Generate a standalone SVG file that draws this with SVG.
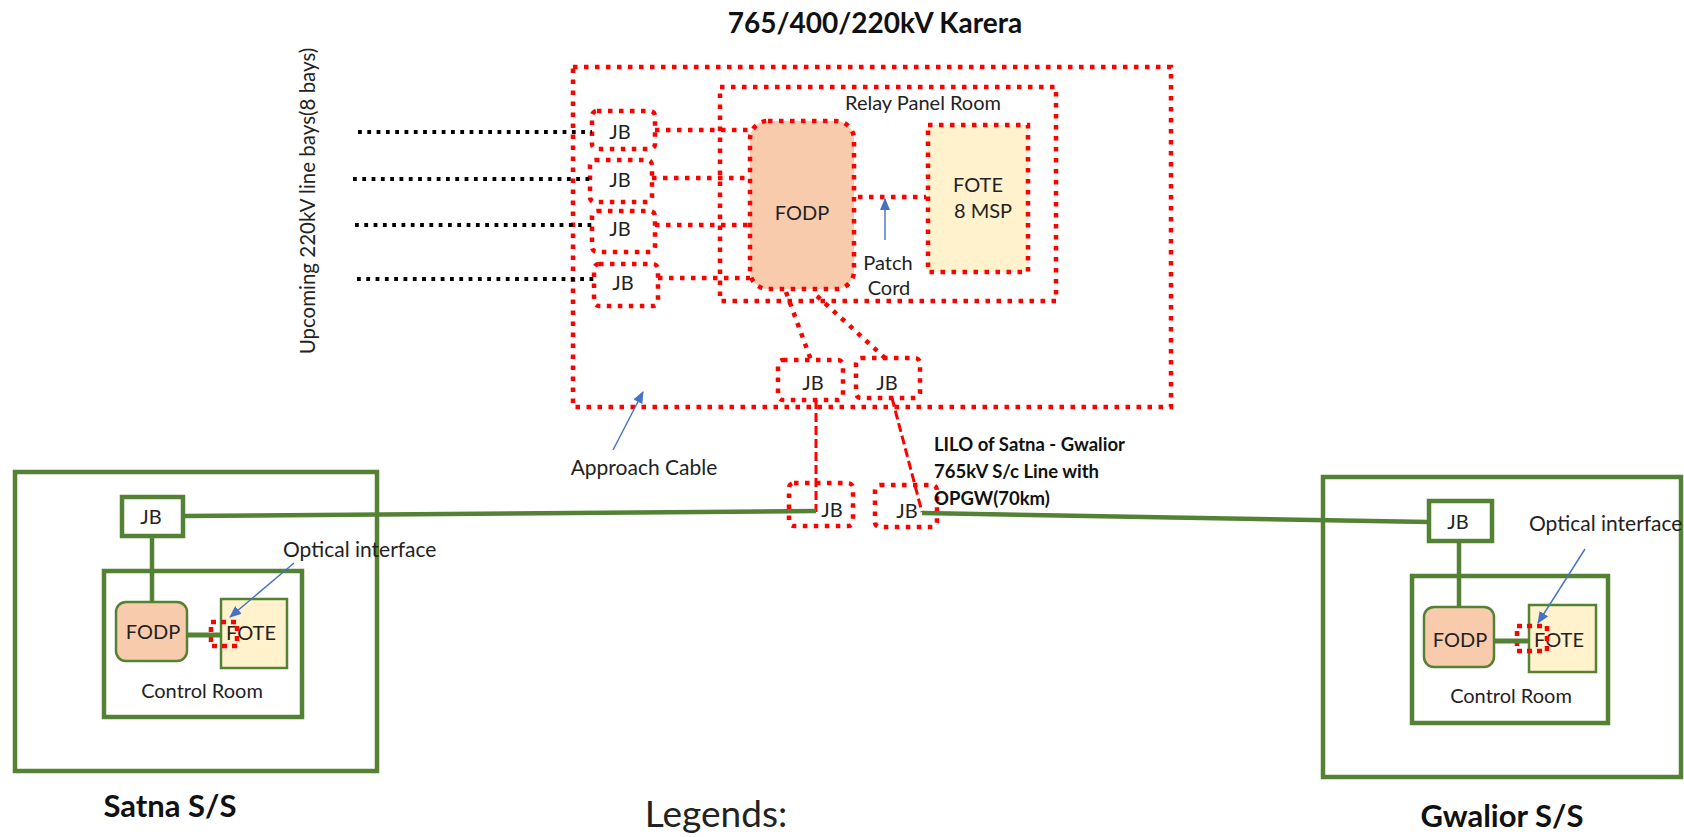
<svg xmlns="http://www.w3.org/2000/svg" width="1684" height="837" viewBox="0 0 1684 837">
<defs>
<style>
.rd{fill:none;stroke:#FF0000;stroke-width:4.5;stroke-dasharray:4.5 6.5}
.rdl{stroke:#FF0000;stroke-width:4.5;stroke-dasharray:4.5 6.5;fill:none}
.rdash{stroke:#FF0000;stroke-width:3;stroke-dasharray:9 4;fill:none}
.bd{stroke:#000;stroke-width:3.8;stroke-dasharray:3.8 5.5;fill:none}
.gb{fill:none;stroke:#548235;stroke-width:4.5}
.gl{stroke:#548235;stroke-width:4.5;fill:none}
.gt{stroke:#548235;stroke-width:2.5}
.ar{stroke:#4472C4;stroke-width:1.4;fill:none;marker-end:url(#ah)}
.t{font-family:Lato,'Open Sans',sans-serif;font-size:20px;fill:#222}
.m{text-anchor:middle}
.b{font-weight:bold;fill:#111}
.peach{fill:#F8CBAD}
.cream{fill:#FFF2CC}
</style>
<marker id="ah" markerWidth="12" markerHeight="10" refX="11" refY="5" orient="auto" markerUnits="userSpaceOnUse">
<path d="M0,0 L12,5 L0,10 Z" fill="#4472C4"/>
</marker>
</defs>
<rect width="1684" height="837" fill="#fff"/>

<text class="t b m" x="875" y="33" style="font-size:28px">765/400/220kV Karera</text>

<g id="karera">
<rect class="rd" x="573" y="67" width="598" height="340"/>
</g>
<g id="relay-room">
<rect class="rd" x="720" y="87" width="336" height="214"/>
<text class="t m" x="923" y="110">Relay Panel Room</text>
</g>
<g id="karera-fodp">
<rect class="rd peach" x="750" y="121" width="104" height="168" rx="18"/>
<text class="t m" x="802" y="220">FODP</text>
</g>
<g id="karera-fote">
<rect class="rd cream" x="928" y="125" width="100" height="147"/>
<text class="t m" x="978" y="192">FOTE</text>
<text class="t m" x="983" y="218">8 MSP</text>
</g>
<g id="jb1"><rect class="rd" x="592" y="111" width="63" height="38" rx="5"/><text class="t m" x="620" y="139">JB</text></g>
<g id="jb2"><rect class="rd" x="590" y="160" width="62" height="42" rx="5"/><text class="t m" x="620" y="187">JB</text></g>
<g id="jb3"><rect class="rd" x="592" y="211" width="63" height="41" rx="5"/><text class="t m" x="620" y="236">JB</text></g>
<g id="jb4"><rect class="rd" x="594" y="264" width="64" height="42" rx="5"/><text class="t m" x="623" y="290">JB</text></g>
<g id="jb5"><rect class="rd" x="778" y="360" width="65" height="40" rx="5"/><text class="t m" x="813" y="390">JB</text></g>
<g id="jb6"><rect class="rd" x="856" y="358" width="64" height="40" rx="5"/><text class="t m" x="887" y="390">JB</text></g>
<g id="jb7"><rect class="rd" x="789" y="483" width="64" height="43" rx="5"/><text class="t m" x="832" y="517">JB</text></g>
<g id="jb8"><rect class="rd" x="875" y="485" width="62" height="42" rx="5"/><text class="t m" x="907" y="518">JB</text></g>

<g id="labels">
<text class="t" transform="translate(315,201) rotate(-90)" text-anchor="middle" style="font-size:20.5px">Upcoming 220kV line bays(8 bays)</text>
<text class="t m" x="888" y="270">Patch</text>
<text class="t m" x="889" y="295">Cord</text>
<text class="t m" x="644" y="475" style="font-size:21px">Approach Cable</text>
<text class="t b" x="934" y="451" style="font-size:18.5px">LILO of Satna - Gwalior</text>
<text class="t b" x="934" y="478" style="font-size:18.5px">765kV S/c Line with</text>
<text class="t b" x="934" y="505" style="font-size:18.5px">OPGW(70km)</text>
<text class="t m" x="716" y="827" style="font-size:37px">Legends:</text>
</g>

<g id="satna">
<rect class="gb" x="15" y="472" width="362" height="299"/>
<rect class="gb" x="104" y="571" width="198" height="146"/>
<text class="t m" x="202" y="698">Control Room</text>
<text class="t b m" x="170" y="817" style="font-size:31px">Satna S/S</text>
</g>
<g id="satna-jb"><rect class="gb" x="122" y="497" width="61" height="39"/><text class="t m" x="151" y="524">JB</text></g>
<g id="satna-fodp"><rect class="peach gt" x="116" y="602" width="71" height="59" rx="10"/><text class="t m" x="153" y="639">FODP</text></g>
<g id="satna-fote"><rect class="cream gt" x="221" y="599" width="66" height="69"/><text class="t m" x="251" y="640">FOTE</text></g>
<g id="satna-oi">
<rect class="rd" x="211" y="622" width="26" height="24" style="stroke-dasharray:5 5"/>
<text class="t" x="283" y="557" style="font-size:21px">Optical interface</text>
</g>

<g id="gwalior">
<rect class="gb" x="1323" y="477" width="358" height="300"/>
<rect class="gb" x="1412" y="576" width="196" height="147"/>
<text class="t m" x="1511" y="703">Control Room</text>
<text class="t b m" x="1502" y="827" style="font-size:31px">Gwalior S/S</text>
</g>
<g id="gwalior-jb"><rect class="gb" x="1429" y="501" width="63" height="40"/><text class="t m" x="1458" y="529">JB</text></g>
<g id="gwalior-fodp"><rect class="peach gt" x="1424" y="607" width="70" height="60" rx="10"/><text class="t m" x="1460" y="647">FODP</text></g>
<g id="gwalior-fote"><rect class="cream gt" x="1529" y="605" width="67" height="67"/><text class="t m" x="1559" y="647">FOTE</text></g>
<g id="gwalior-oi">
<rect class="rd" x="1517" y="626" width="30" height="25" style="stroke-dasharray:5 5"/>
<text class="t" x="1529" y="531" style="font-size:21px">Optical interface</text>
</g>

<g id="connectors">
<line class="bd" x1="358" y1="132" x2="592" y2="132"/>
<line class="bd" x1="353" y1="179" x2="590" y2="179"/>
<line class="bd" x1="355" y1="225" x2="592" y2="225"/>
<line class="bd" x1="357" y1="279" x2="594" y2="279"/>
<line class="rdl" x1="655" y1="130" x2="750" y2="130"/>
<line class="rdl" x1="652" y1="178" x2="750" y2="178"/>
<line class="rdl" x1="655" y1="225" x2="750" y2="225"/>
<line class="rdl" x1="658" y1="278" x2="750" y2="278"/>
<line class="rdl" x1="858" y1="197" x2="926" y2="197"/>
<line class="rdl" x1="786" y1="292" x2="811" y2="360"/>
<line class="rdl" x1="817" y1="296" x2="885" y2="358"/>
<line class="rdash" x1="816" y1="400" x2="816" y2="512"/>
<line class="rdash" x1="892" y1="398" x2="922" y2="512"/>
<line class="gl" x1="183" y1="516" x2="816" y2="511"/>
<line class="gl" x1="922" y1="513" x2="1429" y2="522"/>
<line class="gl" x1="152" y1="536" x2="152" y2="602"/>
<line class="gl" x1="187" y1="635" x2="221" y2="635" style="stroke-width:5"/>
<line class="gl" x1="1459" y1="541" x2="1459" y2="607"/>
<line class="gl" x1="1494" y1="641" x2="1529" y2="641" style="stroke-width:5"/>
<line class="ar" x1="885" y1="240" x2="885" y2="199"/>
<line class="ar" x1="613" y1="450" x2="643" y2="392"/>
<line class="ar" x1="294" y1="563" x2="230" y2="617"/>
<line class="ar" x1="1585" y1="549" x2="1538" y2="623"/>
</g>
</svg>
